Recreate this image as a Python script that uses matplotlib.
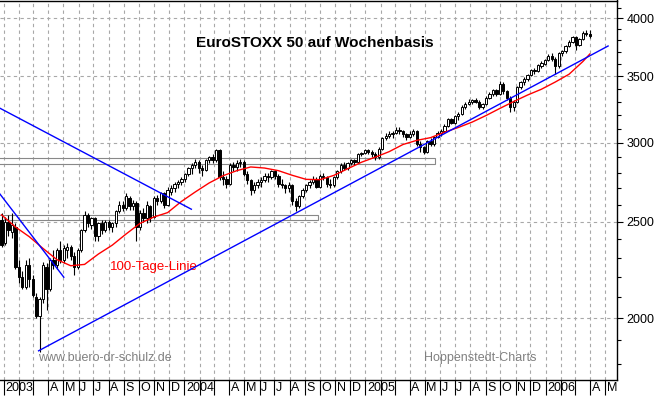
import numpy as np
import pandas as pd
import matplotlib
matplotlib.use("Agg")  # No GUI
import matplotlib.pyplot as plt
import matplotlib.dates as mdates
from matplotlib.patches import Rectangle
from matplotlib.ticker import FixedLocator, NullFormatter, FuncFormatter

plt.rcParams['font.family'] = ['Liberation Sans', 'DejaVu Sans']

# Weekly candles (Friday dates), EuroSTOXX 50, Dec 2002 .. Mar 2006
weeks = pd.date_range("2002-12-27", periods=171, freq="7D")
opens = [
    2510, 2380, 2500, 2440, 2470, 2250, 2200, 2150, 2260, 2190, 2100, 2010, 2090, 2250,
    2140, 2290, 2260, 2340, 2290, 2340, 2360, 2310, 2250, 2340, 2450, 2540, 2480, 2520,
    2420, 2490, 2450, 2500, 2470, 2490, 2560, 2600, 2580, 2640, 2590, 2610, 2470, 2550,
    2520, 2590, 2530, 2640, 2620, 2670, 2600, 2680, 2700, 2730, 2740, 2760, 2790, 2830,
    2850, 2870, 2830, 2820, 2880, 2900, 2880, 2950, 2770, 2760, 2730, 2850, 2840, 2860,
    2870, 2790, 2750, 2690, 2720, 2740, 2750, 2780, 2770, 2810, 2780, 2730, 2720, 2700,
    2720, 2620, 2590, 2650, 2690, 2720, 2740, 2760, 2710, 2780, 2770, 2730, 2720, 2770,
    2810, 2850, 2830, 2860, 2880, 2870, 2920, 2930, 2950, 2940, 2920, 2900, 2960, 3030,
    3050, 3060, 3070, 3090, 3080, 3060, 3040, 3060, 3080, 2990, 2970, 2940, 3010, 2990,
    3040, 3070, 3080, 3120, 3170, 3140, 3190, 3210, 3260, 3280, 3300, 3310, 3300, 3260,
    3280, 3330, 3360, 3390, 3360, 3440, 3380, 3330, 3260, 3300, 3410, 3450, 3480, 3510,
    3550, 3540, 3580, 3600, 3630, 3670, 3640, 3580, 3690, 3710, 3750, 3790, 3830, 3760,
    3810, 3870, 3860,
]
highs = [
    2550, 2530, 2540, 2550, 2490, 2290, 2230, 2290, 2300, 2210, 2120, 2100, 2280, 2270,
    2300, 2340, 2350, 2390, 2370, 2380, 2370, 2330, 2350, 2460, 2560, 2550, 2530, 2530,
    2500, 2510, 2510, 2510, 2500, 2570, 2620, 2620, 2670, 2650, 2630, 2620, 2570, 2580,
    2620, 2600, 2650, 2660, 2680, 2680, 2710, 2720, 2740, 2750, 2770, 2800, 2840, 2860,
    2890, 2880, 2850, 2890, 2910, 2920, 2960, 2960, 2810, 2780, 2860, 2870, 2880, 2890,
    2880, 2810, 2760, 2740, 2760, 2770, 2800, 2800, 2820, 2820, 2790, 2760, 2730, 2740,
    2730, 2640, 2660, 2700, 2730, 2750, 2780, 2770, 2790, 2800, 2780, 2760, 2780, 2820,
    2860, 2870, 2870, 2890, 2890, 2930, 2940, 2960, 2960, 2950, 2940, 2970, 3040, 3070,
    3080, 3080, 3110, 3110, 3090, 3070, 3080, 3100, 3090, 3010, 2980, 3020, 3030, 3050,
    3080, 3100, 3130, 3180, 3180, 3200, 3220, 3270, 3300, 3320, 3320, 3330, 3310, 3290,
    3340, 3370, 3400, 3400, 3460, 3450, 3390, 3340, 3310, 3420, 3460, 3490, 3520, 3560,
    3570, 3600, 3620, 3640, 3680, 3690, 3660, 3700, 3720, 3760, 3800, 3840, 3840, 3820,
    3880, 3890, 3890,
]
lows = [
    2360, 2370, 2420, 2410, 2240, 2170, 2140, 2140, 2150, 2100, 2000, 1850, 2070, 2040,
    2130, 2240, 2240, 2270, 2270, 2300, 2290, 2210, 2240, 2330, 2440, 2470, 2460, 2390,
    2390, 2430, 2440, 2450, 2440, 2470, 2550, 2560, 2570, 2570, 2570, 2390, 2450, 2500,
    2490, 2500, 2520, 2600, 2610, 2580, 2590, 2660, 2680, 2700, 2720, 2740, 2780, 2790,
    2830, 2800, 2780, 2810, 2860, 2860, 2870, 2750, 2720, 2700, 2720, 2810, 2810, 2840,
    2780, 2730, 2660, 2670, 2700, 2710, 2740, 2740, 2760, 2760, 2710, 2700, 2670, 2680,
    2600, 2560, 2580, 2640, 2680, 2700, 2730, 2700, 2700, 2750, 2710, 2700, 2710, 2760,
    2800, 2820, 2820, 2850, 2850, 2860, 2910, 2920, 2920, 2900, 2880, 2890, 2950, 3020,
    3030, 3030, 3060, 3060, 3040, 3020, 3030, 3050, 2980, 2940, 2920, 2930, 2980, 2980,
    3030, 3050, 3070, 3110, 3130, 3130, 3160, 3200, 3240, 3270, 3280, 3290, 3240, 3240,
    3270, 3320, 3340, 3340, 3350, 3360, 3310, 3220, 3230, 3290, 3400, 3430, 3460, 3500,
    3520, 3530, 3570, 3590, 3620, 3620, 3520, 3570, 3670, 3690, 3740, 3780, 3720, 3750,
    3800, 3840, 3820,
]
closes = [
    2370, 2500, 2450, 2480, 2250, 2200, 2150, 2260, 2190, 2110, 2010, 2090, 2260, 2140,
    2290, 2260, 2340, 2290, 2350, 2360, 2310, 2250, 2340, 2450, 2540, 2490, 2520, 2420,
    2490, 2450, 2500, 2470, 2490, 2560, 2600, 2580, 2650, 2590, 2610, 2470, 2550, 2520,
    2600, 2520, 2640, 2620, 2670, 2600, 2690, 2700, 2730, 2740, 2760, 2790, 2830, 2850,
    2870, 2830, 2820, 2880, 2900, 2880, 2950, 2770, 2760, 2730, 2850, 2840, 2860, 2870,
    2790, 2750, 2690, 2720, 2740, 2750, 2780, 2770, 2810, 2780, 2730, 2720, 2700, 2720,
    2620, 2590, 2650, 2690, 2720, 2740, 2760, 2710, 2780, 2770, 2730, 2720, 2770, 2810,
    2850, 2830, 2860, 2880, 2870, 2920, 2930, 2950, 2940, 2920, 2900, 2960, 3030, 3050,
    3060, 3070, 3090, 3080, 3060, 3040, 3060, 3080, 2990, 2970, 2940, 3010, 2990, 3040,
    3070, 3080, 3120, 3170, 3140, 3190, 3210, 3260, 3280, 3300, 3310, 3300, 3260, 3280,
    3330, 3360, 3390, 3360, 3440, 3380, 3330, 3260, 3300, 3410, 3450, 3480, 3510, 3550,
    3540, 3590, 3610, 3630, 3670, 3640, 3580, 3690, 3710, 3750, 3790, 3830, 3760, 3810,
    3870, 3860, 3840,
]

# 100-Tage-Linie, read every 4th week (plus the last week)
ma_idx = list(range(0, 171, 4)) + [170]
ma_values = [
    2540, 2470, 2415, 2350, 2290, 2258, 2265, 2320, 2368, 2430, 2490, 2527, 2553, 2620,
    2678, 2734, 2780, 2813, 2837, 2830, 2813, 2783, 2757, 2755, 2782, 2825, 2868, 2902,
    2939, 2988, 3017, 3036, 3074, 3108, 3147, 3195, 3248, 3300, 3350, 3395, 3452, 3515,
    3620, 3683,
]

# Trend lines (start/end)
trend_up_dates = ["2003-03-12", "2006-05-07"]
trend_up_values = [1855, 3752]
trend_down_dates = ["2002-12-20", "2004-01-15"]
trend_down_values = [3257, 2573]
trend_steep_dates = ["2002-12-20", "2003-05-02"]
trend_steep_values = [2680, 2199]

# Horizontal zones (low, high, end date)
zone_hi = (2855, 2895, "2005-05-22")
zone_lo = (2510, 2539, "2004-09-27")

y_major = [2000, 2500, 3000, 3500, 4000]
y_minor = [v for v in range(1800, 4200, 100) if v not in y_major]
month_letters = "JFMAMJJASOND"

x = mdates.date2num(weeks.to_pydatetime())
o, h, l, c = map(np.array, (opens, highs, lows, closes))
assert len(o) == len(h) == len(l) == len(c) == len(x)

fig = plt.figure(figsize=(6.58, 3.97), dpi=100)
ax = fig.add_axes([0, 17 / 397, 617 / 658, 379.5 / 397])
ax.set_yscale('log')
x_left = mdates.date2num(pd.Timestamp("2002-12-23 22:00"))
x_right = mdates.date2num(pd.Timestamp("2006-05-25"))
ax.set_xlim(x_left, x_right)
ax.set_ylim(1734, 4168)

# zones
for lo, hi, end in (zone_hi, zone_lo):
    ax.add_patch(Rectangle((x_left - 10, lo), mdates.date2num(pd.Timestamp(end)) - x_left + 10,
                           hi - lo, facecolor='none', edgecolor='#888888', lw=0.8, zorder=1.5))

# candles
up = c >= o
ax.vlines(x, l, h, color='black', lw=0.8, zorder=2)
ax.bar(x, np.abs(c - o), bottom=np.minimum(o, c), width=4.6,
       color=np.where(up, 'white', 'black'), edgecolor='black', linewidth=0.7, zorder=3)

# moving average
ax.plot(x[ma_idx], ma_values, color='#ff0000', lw=1.0, zorder=4)

# trend lines
for d, v in ((trend_up_dates, trend_up_values), (trend_down_dates, trend_down_values),
             (trend_steep_dates, trend_steep_values)):
    ax.plot(mdates.date2num(pd.to_datetime(d).to_pydatetime()), v, color='#0000ff', lw=1.0, zorder=4)

# x axis: month separators + labels
months = pd.date_range("2003-01-01", "2006-05-01", freq="MS")
mx = mdates.date2num(months.to_pydatetime())
ax.set_xticks(mx)
ax.tick_params(axis='x', direction='out', length=10.5, width=0.8, color='black', labelbottom=False)
for d, xm in zip(months, mx):
    if d.month in (2, 3):
        continue
    lab = str(d.year) if d.month == 1 else month_letters[d.month - 1]
    ax.text(xm + 3, -0.006, lab, transform=ax.get_xaxis_transform(), ha='left', va='top',
            fontsize=9, color='black', clip_on=False)

# y axis on the right
ax.yaxis.tick_right()
ax.yaxis.set_major_locator(FixedLocator(y_major))
ax.yaxis.set_minor_locator(FixedLocator(y_minor))
ax.yaxis.set_major_formatter(FuncFormatter(lambda v, p: "{:.0f}".format(v)))
ax.yaxis.set_minor_formatter(NullFormatter())
ax.tick_params(axis='y', which='major', direction='out', length=4.5, width=0.8, pad=2.5, labelsize=9)
ax.tick_params(axis='y', which='minor', direction='out', length=3, width=0.8)

ax.grid(True, which='major', axis='both', color='#a8a8a8', linestyle=(0, (3, 3)), lw=0.8)
ax.set_axisbelow(True)

ax.spines['left'].set_visible(False)
for s in ('top', 'right', 'bottom'):
    ax.spines[s].set_color('black')
    ax.spines[s].set_linewidth(1.0)

# texts
ax.text(0.5105, 0.889, "EuroSTOXX 50 auf Wochenbasis", transform=ax.transAxes,
        ha='center', va='center', fontsize=11, fontweight='bold', color='black')
ax.text(0.178, 0.299, "100-Tage-Linie", transform=ax.transAxes, ha='left', va='center',
        fontsize=9.5, color='#ff0000')
ax.text(0.0616, 0.0567, "www.buero-dr-schulz.de", transform=ax.transAxes, ha='left',
        va='center', fontsize=9, color='#808080')
ax.text(0.687, 0.059, "Hoppenstedt-Charts", transform=ax.transAxes, ha='left',
        va='center', fontsize=9, color='#808080')

fig.savefig("out.png", dpi=100)
plt.close(fig)
